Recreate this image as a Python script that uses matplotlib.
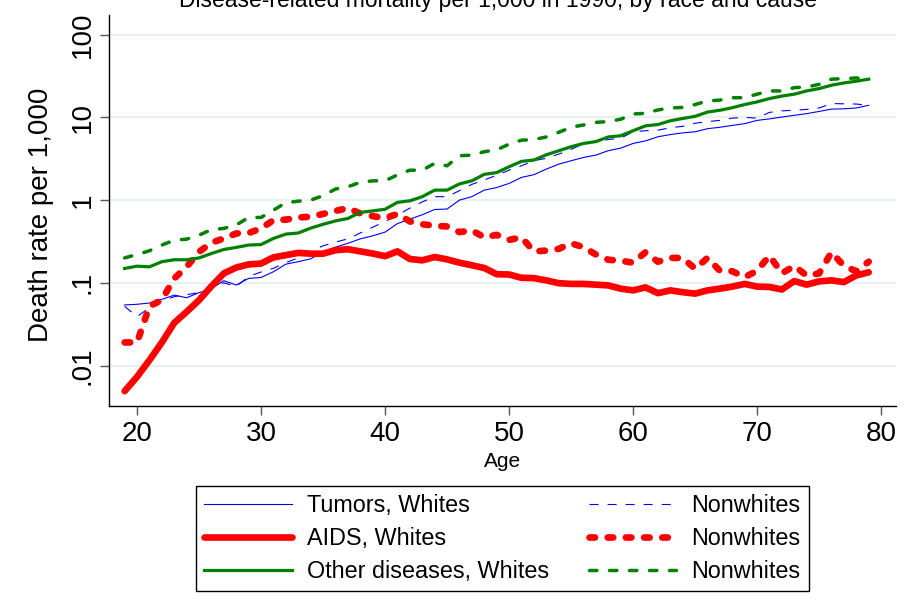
import numpy as np
import matplotlib
matplotlib.use("Agg")
from matplotlib import pyplot as plt

plt.rcParams['font.family'] = ['Liberation Sans', 'DejaVu Sans']
plt.rcParams['lines.scale_dashes'] = False

# Death rates per 1,000 by single year of age, 1990
age = np.arange(19, 80)

tumor_white = [0.054, 0.055, 0.057, 0.063, 0.071, 0.066, 0.076, 0.085, 0.106, 0.094,
               0.113, 0.116, 0.136, 0.168, 0.18, 0.195, 0.235, 0.27, 0.30, 0.34,
               0.37, 0.41, 0.52, 0.59, 0.665, 0.77, 0.78, 1.0, 1.1, 1.32,
               1.42, 1.59, 1.88, 2.03, 2.37, 2.72, 2.99, 3.28, 3.5, 3.96,
               4.25, 4.84, 5.2, 5.83, 6.2, 6.5, 6.7, 7.3, 7.6, 8.0,
               8.4, 9.2, 9.6, 10.1, 10.6, 11.1, 11.8, 12.6, 12.7, 13.0, 14.0]
tumor_nonwhite = [0.052, 0.039, 0.050, 0.060, 0.068, 0.072, 0.076, 0.088, 0.100, 0.090,
                  0.120, 0.135, 0.150, 0.175, 0.20, 0.24, 0.28, 0.31, 0.34, 0.40,
                  0.47, 0.55, 0.66, 0.80, 0.95, 1.10, 1.10, 1.30, 1.55, 1.75,
                  2.0, 2.3, 2.6, 3.0, 3.2, 3.6, 4.1, 4.8, 5.1, 5.4,
                  5.6, 6.7, 6.9, 7.0, 7.5, 7.8, 8.5, 8.9, 9.2, 9.8,
                  10.0, 9.8, 11.5, 12.0, 12.2, 12.5, 13.0, 14.7, 14.6, 14.5, 14.0]
aids_white = [0.0049, 0.0073, 0.0116, 0.019, 0.0328, 0.0446, 0.0617, 0.091, 0.13, 0.153,
              0.167, 0.171, 0.203, 0.216, 0.23, 0.225, 0.225, 0.248, 0.255, 0.24,
              0.226, 0.21, 0.24, 0.194, 0.187, 0.205, 0.192, 0.175, 0.163, 0.151,
              0.127, 0.126, 0.115, 0.114, 0.107, 0.099, 0.097, 0.097, 0.095, 0.093,
              0.085, 0.081, 0.088, 0.075, 0.081, 0.077, 0.074, 0.081, 0.085, 0.090,
              0.097, 0.090, 0.089, 0.083, 0.105, 0.095, 0.104, 0.107, 0.102, 0.123, 0.134]
aids_nonwhite = [0.019, 0.019, 0.052, 0.062, 0.113, 0.156, 0.237, 0.305, 0.344, 0.395,
                 0.40, 0.454, 0.573, 0.58, 0.617, 0.63, 0.68, 0.74, 0.80, 0.69,
                 0.64, 0.605, 0.68, 0.553, 0.51, 0.49, 0.48, 0.41, 0.43, 0.355,
                 0.38, 0.33, 0.355, 0.24, 0.245, 0.257, 0.30, 0.27, 0.22, 0.19,
                 0.185, 0.175, 0.234, 0.18, 0.20, 0.20, 0.148, 0.20, 0.14, 0.138,
                 0.117, 0.14, 0.213, 0.13, 0.16, 0.122, 0.13, 0.234, 0.16, 0.138, 0.18]
other_white = [0.149, 0.159, 0.156, 0.18, 0.19, 0.19, 0.20, 0.226, 0.253, 0.268,
               0.286, 0.29, 0.344, 0.388, 0.40, 0.458, 0.51, 0.56, 0.60, 0.71,
               0.74, 0.775, 0.94, 0.98, 1.1, 1.32, 1.32, 1.57, 1.71, 2.05,
               2.15, 2.53, 2.94, 3.05, 3.53, 3.95, 4.42, 4.84, 5.1, 5.8,
               6.0, 6.9, 7.9, 8.2, 9.1, 9.7, 10.3, 11.6, 12.2, 13.1,
               14.3, 15.4, 16.9, 18.1, 19.1, 20.9, 22.3, 24.5, 26.1, 27.4, 29.0]
other_nonwhite = [0.20, 0.22, 0.244, 0.286, 0.328, 0.337, 0.377, 0.44, 0.455, 0.50,
                  0.617, 0.617, 0.756, 0.93, 0.97, 1.0, 1.13, 1.36, 1.45, 1.64,
                  1.71, 1.71, 2.02, 2.3, 2.3, 2.78, 2.6, 3.44, 3.5, 3.85,
                  4.05, 4.75, 5.3, 5.4, 5.8, 6.6, 7.6, 8.1, 8.7, 8.9,
                  9.5, 11.0, 11.2, 12.3, 13.0, 13.2, 14.3, 15.8, 16.2, 17.3,
                  17.3, 19.1, 20.9, 20.9, 22.9, 23.3, 25.1, 29.0, 29.4, 30.0, 29.0]

yticks = [0.01, 0.1, 1, 10, 100]
ytick_labels = ['.01', '.1', '1', '10', '100']
xticks = [20, 30, 40, 50, 60, 70, 80]

fig = plt.figure(figsize=(9.06, 6.01), dpi=100)
ax = fig.add_axes([109/906, 1 - 406/601, 787/906, 391/601])

blue, red, green = '#0000ff', '#ff0000', '#008000'
l_tw, = ax.plot(age, tumor_white, color=blue, lw=0.8)
l_tn, = ax.plot(age, tumor_nonwhite, color=blue, lw=0.8, ls=(0, (6.5, 6.5)))
l_aw, = ax.plot(age, aids_white, color=red, lw=4.8, solid_capstyle='round',
                solid_joinstyle='round')
l_an, = ax.plot(age, aids_nonwhite, color=red, lw=4.8, ls=(0, (4.0, 9.1)),
                dash_capstyle='round', dash_joinstyle='round')
l_ow, = ax.plot(age, other_white, color=green, lw=2.3, solid_joinstyle='round')
l_on, = ax.plot(age, other_nonwhite, color=green, lw=2.5, ls=(0, (5.3, 9.1)),
                dash_capstyle='round')

ax.set_yscale('log')
ax.set_ylim(0.00324, 173)
ax.set_xlim(17.74, 81.2)
ax.set_yticks(yticks)
ax.set_yticklabels(ytick_labels, rotation=90, va='center')
ax.minorticks_off()
ax.set_xticks(xticks)
ax.yaxis.grid(True, color='#e8f0f2', lw=1.6)
ax.set_axisbelow(True)
ax.tick_params(axis='both', direction='out', length=6.5, width=1.0,
               color='#555555', labelsize=20)
ax.tick_params(axis='y', pad=3)
ax.tick_params(axis='x', pad=4)
for side in ['top', 'right']:
    ax.spines[side].set_visible(False)
for side in ['left', 'bottom']:
    ax.spines[side].set_color('black')
    ax.spines[side].set_linewidth(1.0)

ax.set_ylabel('Death rate per 1,000', fontsize=20, va='center')
ax.yaxis.set_label_coords(-0.087, 0.49)
ax.set_xlabel('Age', fontsize=15, va='center')
ax.xaxis.set_label_coords(0.5, -0.1407)

fig.text(498/906, 1 - 7/601,
         'Disease-related mortality per 1,000 in 1990, by race and cause',
         ha='center', va='baseline', fontsize=16.5)

handles = [l_tw, l_aw, l_ow, l_tn, l_an, l_on]
labels = ['Tumors, Whites', 'AIDS, Whites', 'Other diseases, Whites',
          'Nonwhites', 'Nonwhites', 'Nonwhites']
leg = fig.legend(handles, labels, ncol=2, loc='center',
                 bbox_to_anchor=(502.5/906, 1 - 538.5/601),
                 fontsize=16.8, handlelength=3.75, handletextpad=0.65,
                 columnspacing=1.7, labelspacing=0.43, borderpad=0.35,
                 fancybox=False, framealpha=1, edgecolor='black')
leg.get_frame().set_linewidth(1.0)

fig.savefig('out.png', dpi=100)
